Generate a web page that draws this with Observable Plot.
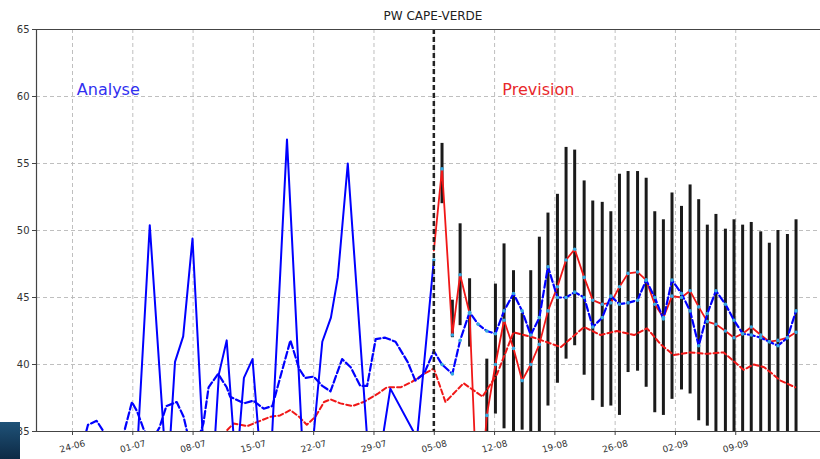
<!DOCTYPE html>
<html><head><meta charset="utf-8">
<script src="https://cdn.jsdelivr.net/npm/d3@7"></script>
<script src="https://cdn.jsdelivr.net/npm/@observablehq/plot@0.6"></script>
<style>
body{margin:0;background:#fff;}
#chart{position:relative;width:820px;height:459px;overflow:hidden;}
#logo{position:absolute;left:0;top:422px;width:20px;height:37px;background:linear-gradient(#1f5278,#0d2a45);}
</style></head><body><div id="chart"><div id="logo"></div></div>
<script>
// x in days since 24-06
const tickDays = [0, 7, 14, 21, 28, 35, 42, 49, 56, 63, 70, 77];
const tickLabels = ["24-06","01-07","08-07","15-07","22-07","29-07","05-08","12-08","19-08","26-08","02-09","09-09"];
const yTicks = [35, 40, 45, 50, 55, 60, 65];
const forecastStart = 41.95;

// Analyse (solid blue)
const anaDay = [7.2, 8.97, 11.0, 11.9, 12.85, 13.93, 15.5, 16.1, 17.0, 17.9, 19.0, 19.9, 20.9, 22.2, 22.8, 24.9, 27.0, 27.6, 29.0, 30.0, 30.8, 31.96, 34.7, 35.4, 36.9, 40.0, 41.95];
const anaVal = [30, 50.4, 31, 40.2, 42.1, 49.4, 30, 30, 39.3, 41.8, 32, 39.0, 40.4, 30, 30, 56.8, 30, 32, 41.7, 43.5, 46.5, 55.0, 30, 32, 38.2, 34.5, 47.8];

// dashed blue (analysis period)
const anaDashDay = [1.3, 1.8, 2.8, 3.6, 4.6, 5.6, 6.9, 7.5, 8.3, 9.2, 10.1, 10.9, 12.1, 12.9, 13.3, 14.5, 15.2, 15.8, 16.9, 17.9, 18.3, 19.9, 21.0, 22.2, 23.2, 24.1, 25.3, 26.3, 27.0, 28.0, 29.0, 29.95, 31.3, 32.3, 33.4, 34.2, 35.2, 36.3, 37.5, 38.9, 39.8, 40.8, 41.95];
const anaDashVal = [34.3, 35.5, 35.8, 35.0, 34.0, 34.0, 37.2, 36.5, 35.1, 34.3, 35.3, 36.9, 37.2, 36.1, 35.0, 34.3, 35.6, 38.3, 39.3, 38.3, 37.6, 37.1, 37.3, 36.7, 36.9, 39.0, 41.8, 39.7, 39.0, 39.1, 38.4, 38.0, 40.4, 39.8, 38.4, 38.4, 41.9, 42.0, 41.7, 40.2, 38.8, 39.3, 41.0];

// dashed red (climatology)
const climDay = [17.5, 17.95, 18.7, 20.3, 21.4, 23.0, 24.1, 25.3, 26.3, 27.2, 28.2, 29.2, 29.95, 31.1, 32.5, 33.8, 35.4, 36.5, 38.1, 39.4, 40.8, 41.95, 43.3, 45.4, 47.6, 49.3, 51.2, 53.6, 56.7, 59.4, 61.3, 63.2, 65.2, 66.7, 68.3, 69.8, 71.7, 73.7, 75.6, 77.9, 79.1, 80.3, 82.2, 83.9];
const climVal = [34.6, 35.1, 35.6, 35.4, 35.7, 36.1, 36.2, 36.6, 36.1, 35.5, 36.1, 37.2, 37.4, 37.1, 36.9, 37.2, 37.8, 38.3, 38.3, 38.7, 39.3, 39.7, 37.2, 38.6, 37.6, 39.3, 42.4, 42.0, 41.3, 42.8, 42.2, 42.5, 42.2, 42.7, 41.5, 40.7, 40.9, 40.8, 40.9, 39.6, 40.0, 39.8, 38.8, 38.3];

// forecast steps
const fcDay = [42.9, 44.1, 45.0, 46.1, 47.1, 48.1, 49.1, 50.1, 51.2, 52.2, 53.2, 54.2, 55.2, 56.3, 57.3, 58.3, 59.4, 60.4, 61.5, 62.5, 63.5, 64.5, 65.6, 66.6, 67.6, 68.6, 69.6, 70.7, 71.7, 72.7, 73.7, 74.7, 75.8, 76.8, 77.8, 78.8, 79.9, 80.9, 81.9, 83.0, 84.0];
const fcMin = [52.0, 42.0, 42.9, 41.3, null, 33.0, 36.3, 35.2, 34.5, 35.1, 34.5, 34.5, 36.9, 38.6, 40.4, 41.4, 39.2, 37.3, 36.8, 36.9, 36.2, 39.4, 39.5, 38.3, 36.4, 36.2, 37.4, 38.1, 37.8, 35.8, 35.4, 34.5, 34.5, 34.5, 34.5, 34.5, 34.5, 34.5, 34.5, 34.5, 34.5];
const fcMax = [56.5, 44.8, 50.5, 46.4, null, 40.4, 46.0, 49.0, 47.0, 43.8, 47.0, 49.5, 51.3, 52.7, 56.2, 56.0, 53.7, 52.2, 52.1, 51.4, 54.2, 54.4, 54.4, 53.9, 51.4, 50.8, 52.8, 51.8, 53.4, 52.3, 50.4, 51.2, 50.1, 50.8, 50.4, 50.6, 49.9, 49.05, 50.0, 49.7, 50.8];
const fcRed = [54.6, 42.2, 46.7, 43.8, 28.0, 36.2, 40.0, 43.3, 41.2, 38.8, 40.0, 41.5, 44.0, 45.8, 47.8, 48.6, 46.5, 44.8, 44.5, 44.6, 45.8, 46.8, 46.9, 46.3, 44.5, 43.5, 45.1, 45.0, 45.5, 44.3, 43.2, 43.0, 42.5, 42.0, 42.3, 42.8, 42.2, 41.7, 41.8, 42.0, 42.4];
const fcBlue = [40.0, 39.3, 41.8, 43.9, 43.0, 42.5, 42.3, 44.0, 45.3, 44.0, 42.2, 43.5, 47.3, 45.0, 45.0, 45.4, 45.0, 42.8, 43.5, 45.1, 44.5, 44.6, 44.8, 46.3, 45.0, 43.4, 46.3, 45.3, 44.0, 41.4, 43.8, 45.5, 44.5, 43.3, 42.3, 42.2, 42.0, 41.7, 41.4, 42.0, 44.0];
const redStart = 48.5;

const ana = anaDay.map((d, i) => ({d, v: anaVal[i]}));
const anaDash = anaDashDay.map((d, i) => ({d, v: anaDashVal[i]}));
const clim = climDay.map((d, i) => ({d, v: climVal[i]}));
const fc = fcDay.map((d, i) => ({d, lo: fcMin[i], hi: fcMax[i], red: fcRed[i], blue: fcBlue[i]}));
const bars = fc.filter(r => r.lo != null);
const blueDash = anaDash.concat(fc.map(r => ({d: r.d, v: r.blue})));
const redLine = [{d: forecastStart, v: redStart}].concat(fc.map(r => ({d: r.d, v: r.red})));
const dots = fc.filter(r => r.red >= 35).map(r => ({d: r.d, v: r.red}))
  .concat(fc.map(r => ({d: r.d, v: r.blue})))
  .concat([{d: forecastStart, v: anaVal[anaVal.length - 1]}]);

const xLeft = -4.18, xRight = 86.84;
const font = "'DejaVu Sans', sans-serif";
const plot = Plot.plot({
  width: 820, height: 459,
  marginLeft: 36, marginRight: 0, marginTop: 29, marginBottom: 28,
  style: {fontFamily: font, fontSize: "10px", color: "#333", background: "transparent"},
  x: {type: "linear", domain: [xLeft, xRight], axis: null, label: null},
  y: {domain: [35, 65], axis: null, label: null},
  marks: [
    Plot.gridY(yTicks, {stroke: "#b8b8b8", strokeOpacity: 1, strokeWidth: 0.9, strokeDasharray: "4,3"}),
    Plot.gridX(tickDays, {stroke: "#b8b8b8", strokeOpacity: 1, strokeWidth: 0.9, strokeDasharray: "4,3"}),
    Plot.axisY(yTicks, {tickSize: 4, tickPadding: 3, stroke: "#444", fill: "#333", fontSize: 10, label: null}),
    Plot.axisX(tickDays, {tickSize: 4, tickFormat: () => "", stroke: "#444", label: null}),
    Plot.text(tickDays, {x: d => d, frameAnchor: "bottom", dy: 15, rotate: -15, text: (d, i) => tickLabels[i], fill: "#333", fontSize: 9, textAnchor: "middle", lineAnchor: "middle"}),
    Plot.ruleX(bars, {x: "d", y1: "lo", y2: "hi", stroke: "#1a1a1a", strokeWidth: 3, clip: true}),
    Plot.line(clim, {x: "d", y: "v", stroke: "#f01818", strokeWidth: 2, strokeDasharray: "5,3", clip: true}),
    Plot.line(ana, {x: "d", y: "v", stroke: "#0000ff", strokeWidth: 2, clip: true}),
    Plot.line(redLine, {x: "d", y: "v", stroke: "#f01818", strokeWidth: 1.8, clip: true}),
    Plot.line(blueDash, {x: "d", y: "v", stroke: "#0000ff", strokeWidth: 2.2, strokeDasharray: "7,3", clip: true}),
    Plot.dot(dots, {x: "d", y: "v", r: 1.8, fill: "#35a8e0", clip: true}),
    Plot.ruleX([forecastStart], {stroke: "#222", strokeWidth: 2.5, strokeDasharray: "5,3"}),
    Plot.ruleY([35, 65], {stroke: "#444", strokeWidth: 1.2}),
    Plot.ruleX([xLeft], {stroke: "#444", strokeWidth: 1.2}),
    Plot.text(["Analyse"], {x: 0.5, y: 60.5, text: d => d, fill: "#3030f0", fontSize: 16, textAnchor: "start", lineAnchor: "middle"}),
    Plot.text(["Prevision"], {x: 49.9, y: 60.5, text: d => d, fill: "#e8282b", fontSize: 16, textAnchor: "start", lineAnchor: "middle"}),
    Plot.text(["PW CAPE-VERDE"], {x: 41.85, frameAnchor: "top", dy: -13, text: d => d, fill: "#222", fontSize: 12, textAnchor: "middle", lineAnchor: "middle"})
  ]
});
document.getElementById("chart").prepend(plot);
</script>
</body></html>
